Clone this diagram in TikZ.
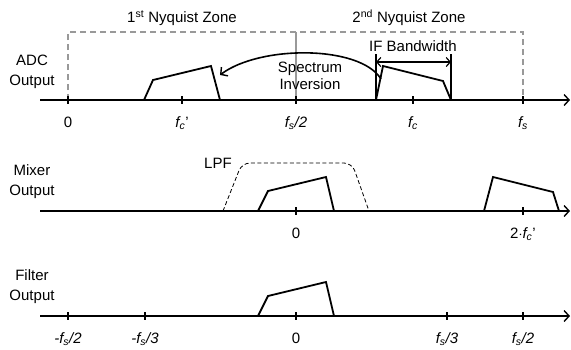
\documentclass[tikz,border=0pt]{standalone}
\usepackage{fontspec}
\setmainfont{Liberation Sans}
\usetikzlibrary{arrows.meta}

\begin{document}
\begin{tikzpicture}[
    x=1pt, y=-1pt,
    font=\fontsize{15}{20}\selectfont,
    axis/.style={line width=1.6pt, -{Straight Barb[length=5pt,width=11pt,line width=1.4pt]}},
    tickmark/.style={line width=1.4pt},
    band/.style={line width=1.8pt, line join=miter},
    zone/.style={draw=gray!80, line width=1.6pt, dash pattern=on 6pt off 4pt},
    lpf/.style={line width=0.8pt, dash pattern=on 4pt off 2.5pt, rounded corners=8pt},
    ticklabel/.style={anchor=base},
    rowlabel/.style={align=center},
    arrow/.style={line width=1.6pt, -{Straight Barb[length=5pt,width=11pt,line width=1.4pt]}}
]
\useasboundingbox (0,0) rectangle (571,349);

% Axes
\coordinate (adcL) at (40,100);   \coordinate (adcR) at (570,100);
\coordinate (mixL) at (40,211);   \coordinate (mixR) at (570,211);
\coordinate (filL) at (40,316);   \coordinate (filR) at (570,316);
\draw[axis] (adcL) -- (adcR);
\draw[axis] (mixL) -- (mixR);
\draw[axis] (filL) -- (filR);

% Row labels
\node (adc) [rowlabel] at (32,72) {ADC\\Output};
\node (mix) [rowlabel] at (32,182) {Mixer\\Output};
\node (fil) [rowlabel] at (32,287) {Filter\\Output};

% Nyquist zones
\draw[zone] (68,100) -- (68,32) -- (523,32) -- (523,100);
\draw[gray!80, line width=1.1pt] (296,32) -- (296,100);
\node (zone1) at (182,18) {1\textsuperscript{st} Nyquist Zone};
\node (zone2) at (409,18) {2\textsuperscript{nd} Nyquist Zone};

% Ticks
\foreach \x/\lab in {68/0, 182/{\textit{f\textsubscript{c}}'}, 296/{\textit{f\textsubscript{s}/2}},
                     413/{\textit{f\textsubscript{c}}}, 523/{\textit{f\textsubscript{s}}}}{
  \draw[tickmark] (\x,96) -- (\x,104);
  \node[ticklabel] at (\x,127) {\lab};
}
\foreach \x/\lab in {296/0, 523/{2$\cdot$\textit{f\textsubscript{c}}'}}{
  \draw[tickmark] (\x,207) -- (\x,215);
  \node[ticklabel] at (\x,238) {\lab};
}
\foreach \x/\lab in {68/{\textit{-f\textsubscript{s}/2}}, 145/{\textit{-f\textsubscript{s}/3}}, 296/0,
                     447/{\textit{f\textsubscript{s}/3}}, 523/{\textit{f\textsubscript{s}/2}}}{
  \draw[tickmark] (\x,312) -- (\x,320);
  \node[ticklabel] at (\x,343) {\lab};
}

% Spectra
\draw[band] (144,100) -- (153,80) -- (211,66) -- (220,100);
\draw[band] (376,100) -- (383,66) -- (443,81) -- (451,100);
\draw[band] (258,211) -- (268,191) -- (326,177) -- (334,211);
\draw[band] (484,211) -- (493,177) -- (553,192) -- (559,211);
\draw[band] (258,316) -- (268,296) -- (326,282) -- (334,316);

% IF bandwidth
\coordinate (ifL) at (376,62);
\coordinate (ifR) at (451,62);
\draw[line width=1.4pt] (376,54) -- (376,100);
\draw[line width=1.4pt] (451,54) -- (451,100);
\draw[line width=1.2pt, {Straight Barb[length=4pt,width=9pt]}-{Straight Barb[length=4pt,width=9pt]}] (ifL) -- (ifR);
\node (ifbw) at (413,46) {IF Bandwidth};

% Spectrum inversion
\coordinate (invS) at (381,79);
\coordinate (invE) at (220,75);
\draw[arrow] (invS) .. controls (360,45) and (260,45) .. (invE);
\node (inv) [align=center, font=\fontsize{15}{17}\selectfont] at (310,75.5) {Spectrum\\Inversion};

% Low-pass filter
\draw[lpf] (223,211) -- (242,163) -- (352,163) -- (369,211);
\node (lpfl) at (218,163) {LPF};

\end{tikzpicture}
\end{document}
